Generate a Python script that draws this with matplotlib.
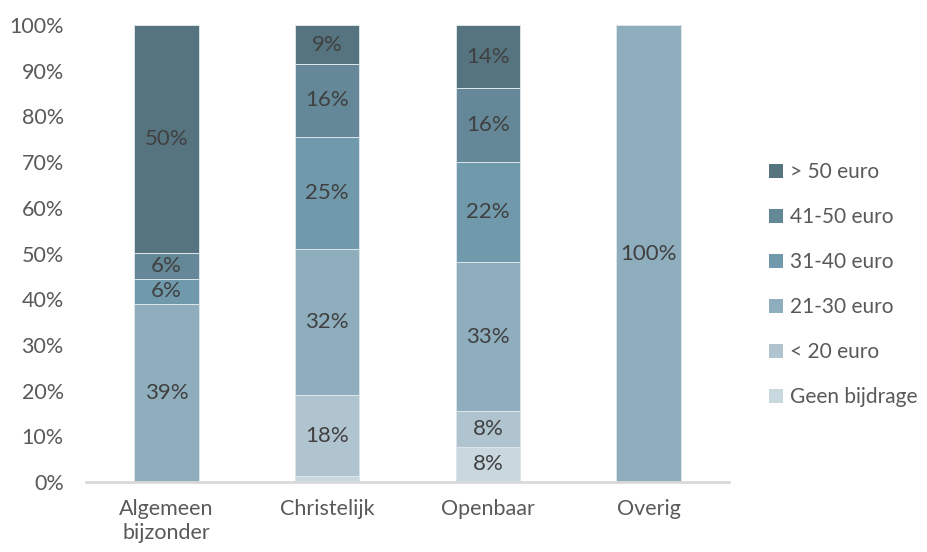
import matplotlib.pyplot as plt
import numpy as np

plt.rcParams['font.family'] = ['Lato', 'DejaVu Sans']

# schooltypes en ouderbijdrage (aandeel in %)
categorieen = ['Algemeen\nbijzonder', 'Christelijk', 'Openbaar', 'Overig']
reeksen = ['Geen bijdrage', '< 20 euro', '21-30 euro', '31-40 euro', '41-50 euro', '> 50 euro']
geen = [0.0, 1.3, 7.7, 0.0]
onder20 = [0.0, 17.7, 7.8, 0.0]
eur21_30 = [38.9, 32.0, 32.6, 100.0]
eur31_40 = [5.6, 24.6, 21.9, 0.0]
eur41_50 = [5.6, 15.8, 16.2, 0.0]
boven50 = [50.0, 8.6, 13.8, 0.0]

kleuren = ['#c9d7df', '#b0c4cf', '#8eadbd', '#7099ab', '#648897', '#56747f']
waarden = [geen, onder20, eur21_30, eur31_40, eur41_50, boven50]

fig = plt.figure(figsize=(9.27, 5.52), dpi=100)
ax = fig.add_axes([0.0928, 0.1268, 0.6936, 0.8279])

x = np.arange(len(categorieen))
bodem = np.zeros(len(categorieen))
handles = []
for naam, vals, kleur in zip(reeksen, waarden, kleuren):
    vals = np.array(vals)
    b = ax.bar(x, vals, 0.4, bottom=bodem, color=kleur, edgecolor='#dce5ea',
               linewidth=0.7, label=naam)
    handles.append(b)
    for xi, v, y0 in zip(x, vals, bodem):
        if v >= 5:
            ax.text(xi, y0 + v / 2, '{:.0f}%'.format(v), ha='center', va='center',
                    fontsize=16, color='#404040')
    bodem += vals

ax.set_xlim(-0.5, 3.5)
ax.set_ylim(0, 100)
ax.set_yticks(np.arange(0, 101, 10))
ax.set_yticklabels(['{}%'.format(t) for t in range(0, 101, 10)])
ax.set_xticks(x)
ax.set_xticklabels(categorieen, linespacing=1.25)
ax.tick_params(axis='both', length=0, labelsize=15.5, colors='#595959')
ax.tick_params(axis='x', pad=12)
ax.tick_params(axis='y', pad=16)
for s in ['top', 'right', 'left']:
    ax.spines[s].set_visible(False)
ax.spines['bottom'].set_color('#d9d9d9')
ax.spines['bottom'].set_linewidth(2)

leg = fig.legend(handles[::-1], reeksen[::-1], loc='center left',
                 bbox_to_anchor=(0.83, 0.484), frameon=False, fontsize=15,
                 handlelength=0.65, handleheight=0.65, handletextpad=0.35,
                 labelspacing=1.2, labelcolor='#595959', borderaxespad=0,
                 borderpad=0)
for h in leg.legend_handles:
    h.set_edgecolor('none')

fig.savefig('out.png', dpi=100)
